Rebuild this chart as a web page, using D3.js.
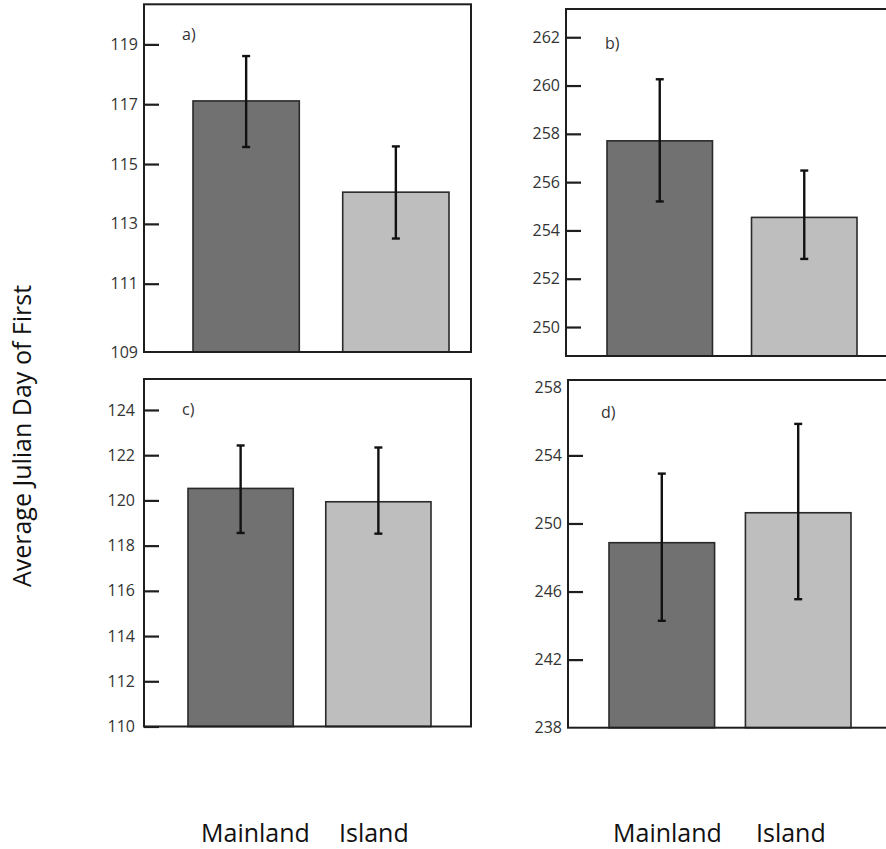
<!DOCTYPE html>
<html>
<head>
<meta charset="utf-8">
<script src="https://cdn.jsdelivr.net/npm/d3@7"></script>
<style>
  body { margin: 0; background: #fff; }
  svg { display: block; font-family: "Open Sans", sans-serif; }
</style>
</head>
<body>
<svg id="chart" width="886" height="849"></svg>
<script>
'use strict';

// data
var categories = ["Mainland", "Island"];
var panelNames = ["a)", "b)", "c)", "d)"];

var meansA = [117.11, 114.06];
var lowA = [115.57, 112.51];
var highA = [118.61, 115.59];
var ticksA = [109, 111, 113, 115, 117, 119];

var meansB = [257.71, 254.54];
var lowB = [255.2, 252.82];
var highB = [260.26, 256.48];
var ticksB = [250, 252, 254, 256, 258, 260, 262];

var meansC = [120.53, 119.94];
var lowC = [118.56, 118.53];
var highC = [122.43, 122.34];
var ticksC = [110, 112, 114, 116, 118, 120, 122, 124];

var meansD = [248.87, 250.63];
var lowD = [244.28, 245.55];
var highD = [252.93, 255.85];
var ticksD = [238, 242, 246, 250, 254, 258];

var yTitle = "Average Julian Day of First";

var svg = d3.select("#chart");
var barColors = ["#717171", "#bebebe"];

// panel layout (the original figure's axes are not all linear, a) has a short first step)
var panels = [
  { name: panelNames[0], means: meansA, low: lowA, high: highA, ticks: ticksA,
    domain: [109, 111, 120.34], range: [352, 283.7, 4.3],
    x0: 144, x1: 471, bars: [193, 449], pad: 0.29, lab: [182, 40], tp: 6, noMark: [109] },
  { name: panelNames[1], means: meansB, low: lowB, high: highB, ticks: ticksB,
    domain: [248.8, 263.17], range: [356, 9],
    x0: 566, x1: 900, bars: [607, 857], pad: 0.27, lab: [605, 49], tp: 6, noMark: [] },
  { name: panelNames[2], means: meansC, low: lowC, high: highC, ticks: ticksC,
    domain: [110, 125.37], range: [726.5, 379],
    x0: 144, x1: 471, bars: [188, 431], pad: 0.236, lab: [182, 415], tp: 9, noMark: [] },
  { name: panelNames[3], means: meansD, low: lowD, high: highD, ticks: ticksD,
    domain: [238, 258.43], range: [727.7, 380],
    x0: 568, x1: 900, bars: [609, 851], pad: 0.226, lab: [601, 418], tp: 6, noMark: [238, 258] }
];

panels.forEach(function(p) {
  var y = d3.scaleLinear().domain(p.domain).range(p.range);
  var x = d3.scaleBand().domain(categories).range(p.bars).paddingInner(p.pad).paddingOuter(0);
  var yBottom = y(p.domain[0]);
  var yTop = y(p.domain[p.domain.length - 1]);

  var g = svg.append("g");

  var rows = categories.map(function(c, i) {
    return { cat: c, mean: p.means[i], lo: p.low[i], hi: p.high[i], i: i };
  });

  // bars
  g.selectAll("rect.bar")
    .data(rows)
    .enter().append("rect")
    .attr("class", "bar")
    .attr("x", function(d) { return x(d.cat); })
    .attr("y", function(d) { return y(d.mean); })
    .attr("width", x.bandwidth())
    .attr("height", function(d) { return yBottom - y(d.mean); })
    .style("fill", function(d) { return barColors[d.i]; })
    .style("stroke", "#2a2a2a")
    .style("stroke-width", 1.6);

  // error bars
  var eb = g.selectAll("g.err")
    .data(rows)
    .enter().append("g")
    .attr("class", "err")
    .style("stroke", "#111")
    .style("stroke-width", 2.4);
  eb.append("line")
    .attr("x1", function(d) { return x(d.cat) + x.bandwidth() / 2; })
    .attr("x2", function(d) { return x(d.cat) + x.bandwidth() / 2; })
    .attr("y1", function(d) { return y(d.lo); })
    .attr("y2", function(d) { return y(d.hi); });
  ["lo", "hi"].forEach(function(k) {
    eb.append("line")
      .attr("x1", function(d) { return x(d.cat) + x.bandwidth() / 2 - 4; })
      .attr("x2", function(d) { return x(d.cat) + x.bandwidth() / 2 + 4; })
      .attr("y1", function(d) { return y(d[k]); })
      .attr("y2", function(d) { return y(d[k]); });
  });

  // frame
  g.append("rect")
    .attr("x", p.x0)
    .attr("y", yTop)
    .attr("width", p.x1 - p.x0)
    .attr("height", yBottom - yTop)
    .style("fill", "none")
    .style("stroke", "#1e1e1e")
    .style("stroke-width", 2);

  // y axis, ticks pointing inward
  var axis = g.append("g")
    .attr("transform", "translate(" + p.x0 + ",0)")
    .call(d3.axisLeft(y).tickValues(p.ticks).tickSizeInner(-15).tickSizeOuter(0)
      .tickPadding(p.tp).tickFormat(d3.format("d")));
  axis.select(".domain").remove();
  axis.selectAll(".tick line")
    .style("stroke", "#1e1e1e")
    .style("stroke-width", 2.2)
    .style("display", function(d) { return p.noMark.indexOf(d) >= 0 ? "none" : null; });
  axis.selectAll(".tick text")
    .style("font-family", "'Open Sans', sans-serif")
    .style("font-size", "16px")
    .style("fill", "#333");

  // panel letter
  g.append("text")
    .attr("x", p.lab[0])
    .attr("y", p.lab[1])
    .style("font-size", "16px")
    .style("fill", "#333")
    .text(p.name);
});

// shared y title
svg.append("text")
  .attr("transform", "translate(31,436) rotate(-90)")
  .attr("text-anchor", "middle")
  .style("font-size", "25px")
  .style("fill", "#111")
  .text(yTitle);

// category names under the columns
var catLabelX = [[201, 339], [613, 756]];
catLabelX.forEach(function(xs) {
  svg.selectAll(null)
    .data(categories)
    .enter().append("text")
    .attr("x", function(d, i) { return xs[i]; })
    .attr("y", 842)
    .style("font-size", "25px")
    .style("fill", "#111")
    .text(function(d) { return d; });
});
</script>
</body>
</html>
